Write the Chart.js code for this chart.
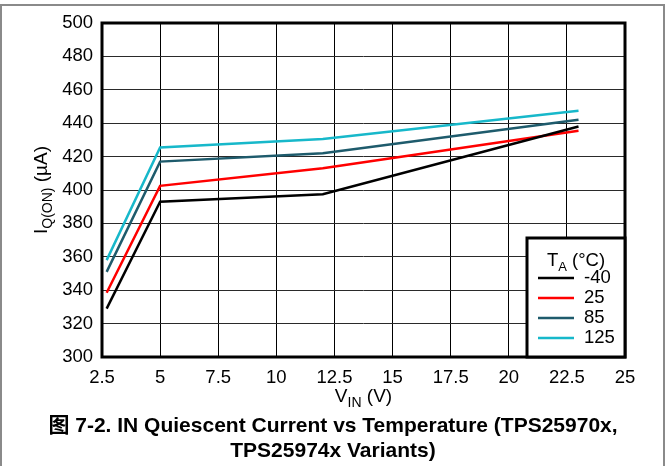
<!DOCTYPE html>
<html>
<head>
<meta charset="utf-8">
<script src="https://cdn.jsdelivr.net/npm/chart.js@4"></script>
<style>
html,body{margin:0;padding:0;background:#fff;}
#wrap{position:absolute;left:0;top:0;width:666px;height:466px;}
</style>
</head>
<body>
<div id="wrap"><canvas id="c" width="666" height="466"></canvas></div>
<script>
// ---- data ----
const vin = [2.7, 5, 12, 23];
const seriesLabels = ['-40', '25', '85', '125'];
const iqM40 = [329, 393, 397.5, 438];
const iq25 = [338.5, 402.5, 413, 435.5];
const iq85 = [351, 417, 422, 442];
const iq125 = [358, 425.5, 430.5, 447.5];
const xTicks = [2.5, 5, 7.5, 10, 12.5, 15, 17.5, 20, 22.5, 25];
const yTicks = [300, 320, 340, 360, 380, 400, 420, 440, 460, 480, 500];
const captionLines = ['图 7-2. IN Quiescent Current vs Temperature (TPS25970x,', 'TPS25974x Variants)'];

const colors = ['#000000', '#ff0000', '#1e5b6c', '#17b8ca'];
const allSeries = [iqM40, iq25, iq85, iq125];

const FONT = '"Liberation Sans", Arial, "Noto Sans CJK SC", sans-serif';
const TICK_SIZE = 18.5;

function pts(ys) { return vin.map((x, i) => ({x: x, y: ys[i]})); }

function drawSub(ctx, parts, x, y, size, align) {
  let total = 0;
  const widths = parts.map(p => {
    ctx.font = (p[1] ? Math.round(size * 0.72) : size) + 'px ' + FONT;
    const w = ctx.measureText(p[0]).width;
    total += w;
    return w;
  });
  let cx = align === 'center' ? x - total / 2 : x;
  parts.forEach((p, i) => {
    ctx.font = (p[1] ? Math.round(size * 0.72) : size) + 'px ' + FONT;
    ctx.textAlign = 'left';
    ctx.textBaseline = 'alphabetic';
    ctx.fillText(p[0], cx, y + (p[1] ? size * 0.25 : 0));
    cx += widths[i];
  });
}

const decor = {
  id: 'decor',
  afterDraw(chart) {
    const ctx = chart.ctx;
    const a = chart.chartArea;
    ctx.save();
    // plot frame
    ctx.strokeStyle = '#000';
    ctx.lineWidth = 3;
    ctx.strokeRect(a.left, a.top, a.right - a.left, a.bottom - a.top);
    // legend box
    const lx = 527, ly = 238, lw = a.right - 527, lh = a.bottom - 238;
    ctx.fillStyle = '#fff';
    ctx.fillRect(lx, ly, lw, lh);
    ctx.strokeRect(lx, ly, lw, lh);
    ctx.fillStyle = '#000';
    drawSub(ctx, [['T', false], ['A', true], [' (°C)', false]], 576, 266, 18.5, 'center');
    chart.data.datasets.forEach((ds, i) => {
      const yy = 278 + i * 20;
      ctx.strokeStyle = ds.borderColor;
      ctx.lineWidth = 2.5;
      ctx.beginPath();
      ctx.moveTo(538, yy);
      ctx.lineTo(574, yy);
      ctx.stroke();
      ctx.fillStyle = '#000';
      ctx.font = TICK_SIZE + 'px ' + FONT;
      ctx.textAlign = 'left';
      ctx.textBaseline = 'middle';
      ctx.fillText(ds.label, 584, yy);
    });
    // x axis title
    ctx.fillStyle = '#000';
    drawSub(ctx, [['V', false], ['IN', true], [' (V)', false]], (a.left + a.right) / 2, 402, 19, 'center');
    // y axis title
    ctx.save();
    ctx.translate(47, (a.top + a.bottom) / 2);
    ctx.rotate(-Math.PI / 2);
    drawSub(ctx, [['I', false], ['Q(ON)', true], [' (µA)', false]], 0, 0, 19, 'center');
    ctx.restore();
    // caption
    ctx.fillStyle = '#000';
    ctx.font = 'bold 21px ' + FONT;
    ctx.textAlign = 'center';
    ctx.textBaseline = 'middle';
    ctx.fillText(captionLines[0], 333, 426);
    ctx.fillText(captionLines[1], 333, 451);
    // outer frame
    ctx.strokeStyle = '#8a8a8a';
    ctx.lineWidth = 2;
    ctx.strokeRect(1, 5, 663, 470);
    ctx.restore();
  }
};

new Chart(document.getElementById('c'), {
  type: 'line',
  data: {
    datasets: allSeries.map((s, i) => ({
      label: seriesLabels[i],
      data: pts(s),
      borderColor: colors[i],
      backgroundColor: colors[i],
      borderWidth: 2.5,
      pointRadius: 0,
      tension: 0,
      fill: false
    }))
  },
  options: {
    responsive: false,
    devicePixelRatio: 1,
    animation: false,
    layout: {padding: {left: 0, top: 23, right: 41, bottom: 49}},
    plugins: {legend: {display: false}, tooltip: {enabled: false}, title: {display: false}},
    scales: {
      x: {
        type: 'linear', min: 2.5, max: 25,
        afterFit(scale) { scale.height = 60; },
        afterBuildTicks(scale) { scale.ticks = xTicks.map(v => ({value: v})); },
        grid: {color: '#000', lineWidth: 1, drawTicks: false},
        border: {display: false},
        ticks: {color: '#000', padding: 10, font: {family: FONT, size: TICK_SIZE}, maxRotation: 0, autoSkip: false,
          callback: v => String(v)}
      },
      y: {
        min: 300, max: 500,
        afterFit(scale) { scale.width = 102; },
        afterBuildTicks(scale) { scale.ticks = yTicks.map(v => ({value: v})); },
        grid: {color: '#2a2a2a', lineWidth: 1, drawTicks: false},
        border: {display: false},
        ticks: {color: '#000', padding: 9, font: {family: FONT, size: TICK_SIZE}, autoSkip: false,
          callback: v => String(v)}
      }
    }
  },
  plugins: [decor]
});
</script>
</body>
</html>
